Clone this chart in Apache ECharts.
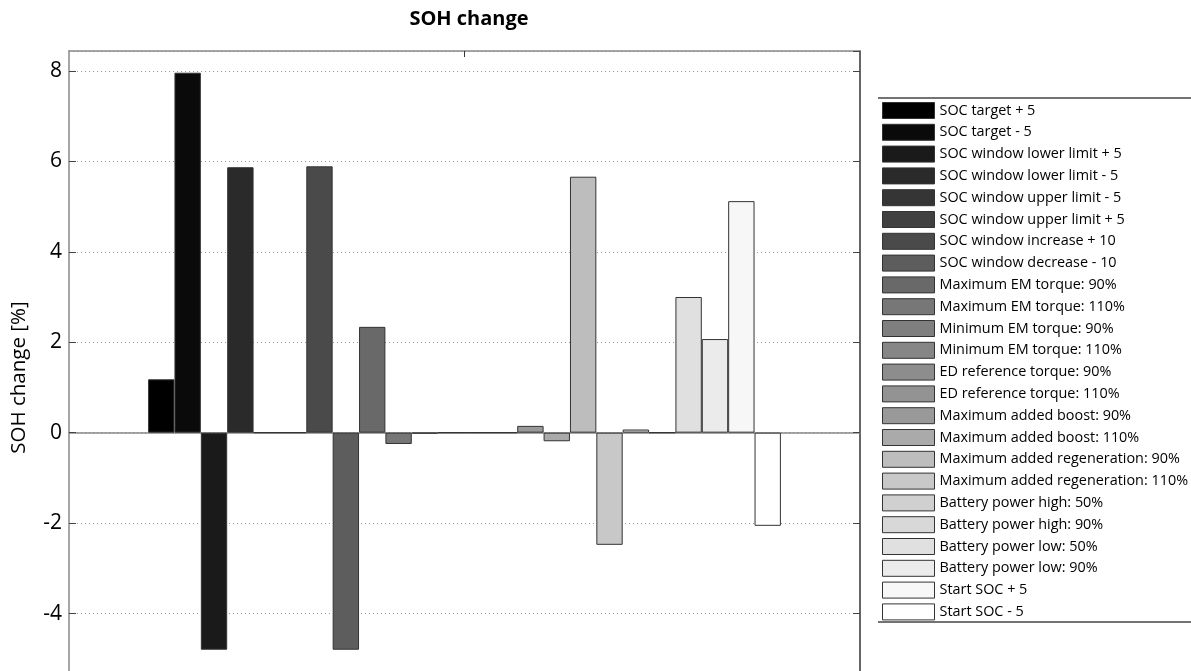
<!DOCTYPE html>
<html>
<head>
<meta charset="utf-8">
<script src="https://cdn.jsdelivr.net/npm/echarts@6/dist/echarts.min.js"></script>
<style>html,body{margin:0;padding:0;background:#fff}#c{width:1191px;height:671px}</style>
</head>
<body>
<div id="c"></div>
<script>
const categories = [''];
const seriesNames = [
  'SOC target + 5', 'SOC target - 5', 'SOC window lower limit + 5', 'SOC window lower limit - 5',
  'SOC window upper limit - 5', 'SOC window upper limit + 5', 'SOC window increase + 10', 'SOC window decrease - 10',
  'Maximum EM torque: 90%', 'Maximum EM torque: 110%', 'Minimum EM torque: 90%', 'Minimum EM torque: 110%',
  'ED reference torque: 90%', 'ED reference torque: 110%', 'Maximum added boost: 90%', 'Maximum added boost: 110%',
  'Maximum added regeneration: 90%', 'Maximum added regeneration: 110%', 'Battery power high: 50%', 'Battery power high: 90%',
  'Battery power low: 50%', 'Battery power low: 90%', 'Start SOC + 5', 'Start SOC - 5'
];
const sohChange = [1.18, 7.96, -4.80, 5.87, 0, 0, 5.89, -4.80, 2.34, -0.25, -0.02, 0,
                   0, 0, 0.15, -0.19, 5.66, -2.48, 0.07, 0, 3.00, 2.07, 5.12, -2.06];
const yTicks = [-6, -4, -2, 0, 2, 4, 6, 8];
const grayLevels = [0, 10, 26, 42, 53, 64, 74, 93, 105, 119, 127, 134, 141, 147, 153, 170, 189, 200, 208, 216, 224, 235, 247, 255];

const font = '"Open Sans", "DejaVu Sans", sans-serif';
const yMin = -6, yMax = 8.44, yInt = 2;

const chart = echarts.init(document.getElementById('c'), null, {renderer: 'canvas'});
const series = seriesNames.map((name, i) => {
  const g = grayLevels[i];
  return {
    name: name,
    type: 'bar',
    xAxisIndex: 0,
    yAxisIndex: 0,
    barGap: '0%',
    barCategoryGap: '20%',
    data: categories.map(() => sohChange[i]),
    itemStyle: {color: `rgb(${g},${g},${g})`, borderColor: '#333', borderWidth: 1},
    emphasis: {disabled: true},
    silent: true
  };
});

const yLabelFmt = v => (yTicks.indexOf(v) >= 0 ? String(v) : '');

chart.setOption({
  animation: false,
  backgroundColor: '#fff',
  title: {
    text: 'SOH change', left: 464, top: 4, textAlign: 'center',
    textStyle: {fontFamily: font, fontSize: 20, fontWeight: 'bold', color: '#000'}
  },
  grid: {left: 69, top: 51, width: 791, height: 653, containLabel: false, outerBoundsMode: 'none'},
  legend: {
    orient: 'vertical', left: 882, top: 102, padding: 0,
    itemWidth: 52, itemHeight: 16, itemGap: 4.8,
    icon: 'rect',
    itemStyle: {borderColor: '#333', borderWidth: 1},
    textStyle: {fontFamily: font, fontSize: 14.4, color: '#000', lineHeight: 16},
    selectedMode: false,
    data: seriesNames
  },
  xAxis: [{
    type: 'category', data: categories, position: 'bottom',
    axisLine: {show: true, onZero: true, lineStyle: {color: '#888', width: 1.5}},
    axisTick: {show: false}, axisLabel: {show: false}, splitLine: {show: false}
  }, {
    type: 'category', data: categories, position: 'top',
    axisLine: {show: true, onZero: false, lineStyle: {color: '#888', width: 1.5}},
    axisTick: {show: true, inside: true, alignWithLabel: true, length: 6, lineStyle: {color: '#333'}},
    axisLabel: {show: false}, splitLine: {show: false}
  }],
  yAxis: [{
    type: 'value', min: yMin, max: yMax, interval: yInt, position: 'left',
    name: 'SOH change [%]', nameLocation: 'middle', nameGap: 39,
    nameTextStyle: {fontFamily: font, fontSize: 20.5, color: '#000'},
    axisLine: {show: true, lineStyle: {color: '#888', width: 1.5}},
    axisTick: {show: true, inside: true, length: 7, lineStyle: {color: '#444'}},
    axisLabel: {fontFamily: font, fontSize: 21, color: '#000', margin: 7, formatter: yLabelFmt, showMaxLabel: false},
    splitLine: {show: true, lineStyle: {color: '#999', type: [1, 3], width: 1}}
  }, {
    type: 'value', min: yMin, max: yMax, interval: yInt, position: 'right',
    axisLine: {show: true, lineStyle: {color: '#333', width: 1.5}},
    axisTick: {show: true, inside: true, length: 7, lineStyle: {color: '#444'}},
    axisLabel: {show: false},
    splitLine: {show: false}
  }],
  graphic: [
    {type: 'line', shape: {x1: 878, y1: 98, x2: 1191, y2: 98}, style: {stroke: '#444', lineWidth: 1.5}, silent: true},
    {type: 'line', shape: {x1: 878, y1: 622, x2: 1191, y2: 622}, style: {stroke: '#444', lineWidth: 1.5}, silent: true}
  ],
  series: series
});
</script>
</body>
</html>
